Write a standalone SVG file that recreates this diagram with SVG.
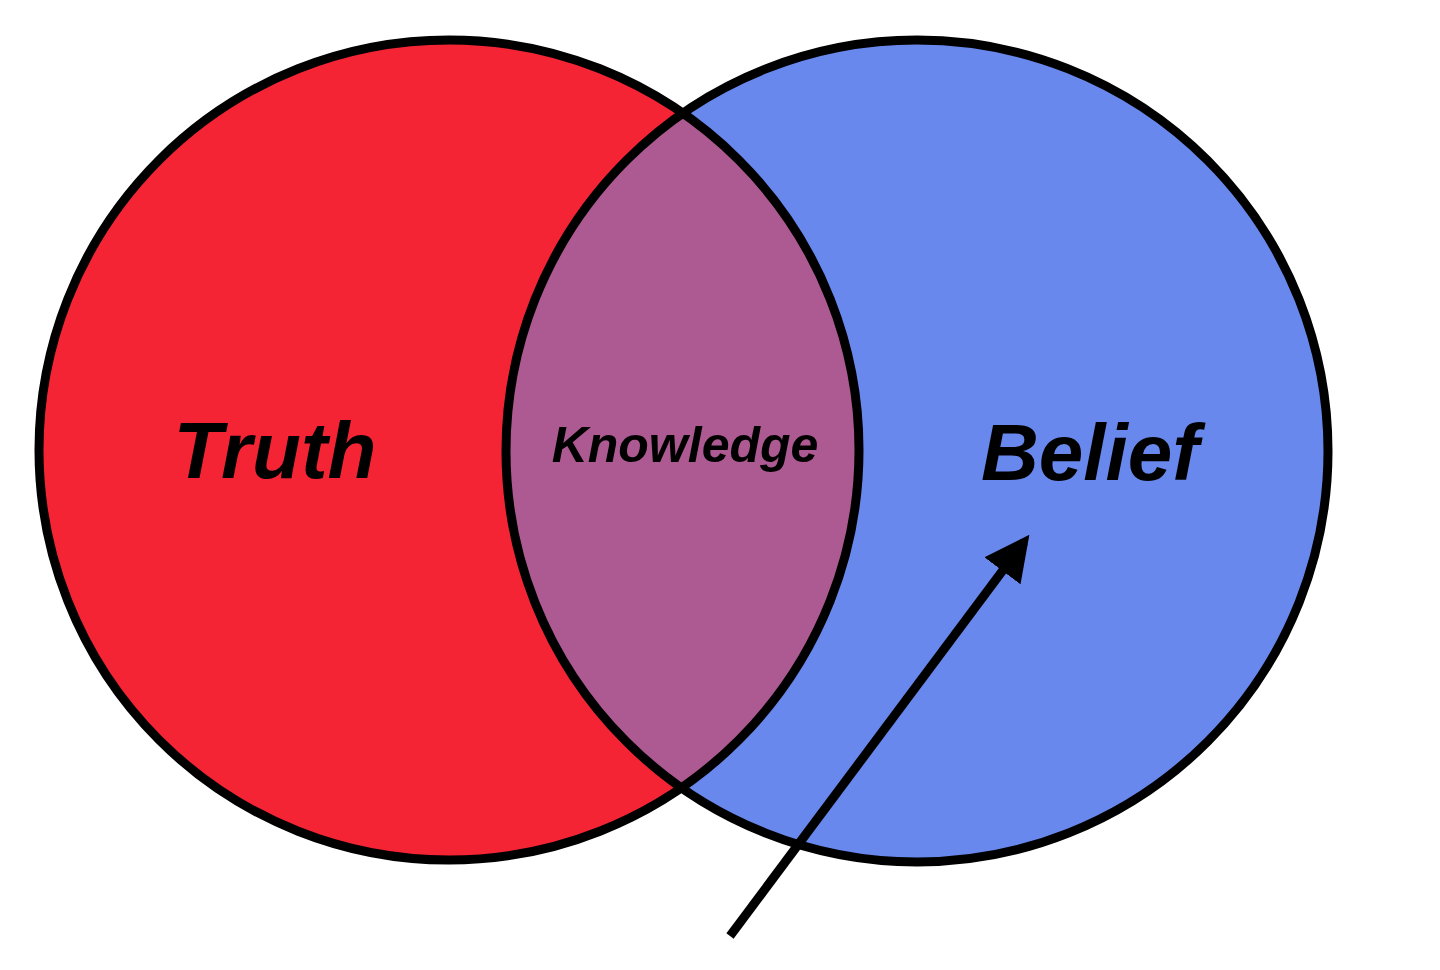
<svg xmlns="http://www.w3.org/2000/svg" width="1440" height="970" viewBox="0 0 1440 970">
<style>
.c{stroke:#000;stroke-width:9}
.t{font-family:"Liberation Sans",Arial,sans-serif;font-weight:bold;font-style:italic;fill:#000;text-anchor:middle}
</style>
<defs>
<clipPath id="lc"><circle cx="449" cy="450" r="410"/></clipPath>
<marker id="ah" viewBox="0 0 10 10" refX="8" refY="5" markerWidth="5" markerHeight="5" orient="auto"><path d="M0,0L10,5L0,10z" fill="#000"/></marker>
</defs>
<rect width="1440" height="970" fill="#fff"/>
<g id="truth"><circle cx="449" cy="450" r="410" fill="#F52435"/></g>
<g id="belief"><circle cx="917" cy="451" r="411" fill="#6888EE"/></g>
<g id="knowledge"><circle cx="917" cy="451" r="411" fill="#AE5A92" clip-path="url(#lc)"/></g>
<circle cx="449" cy="450" r="410" fill="none" class="c"/>
<circle cx="917" cy="451" r="411" fill="none" class="c"/>
<text class="t" x="275" y="478" font-size="80">Truth</text>
<text class="t" x="685" y="462" font-size="50">Knowledge</text>
<text class="t" x="1090" y="480" font-size="80">Belief</text>
<g id="connectors"><line x1="730" y1="936" x2="1024" y2="542" stroke="#000" stroke-width="9" marker-end="url(#ah)"/></g>
</svg>
